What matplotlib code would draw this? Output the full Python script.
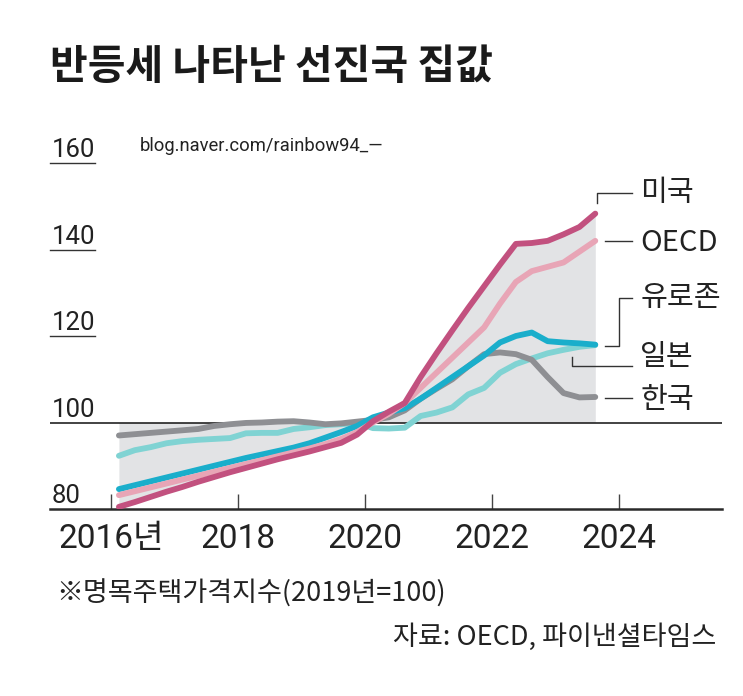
import matplotlib
matplotlib.use("Agg")
import matplotlib.pyplot as plt
import numpy as np

# quarterly nominal house price index (2019 = 100)
quarters = ["2016Q1", "2016Q2", "2016Q3", "2016Q4", "2017Q1", "2017Q2", "2017Q3", "2017Q4",
            "2018Q1", "2018Q2", "2018Q3", "2018Q4", "2019Q1", "2019Q2", "2019Q3", "2019Q4",
            "2020Q1", "2020Q2", "2020Q3", "2020Q4", "2021Q1", "2021Q2", "2021Q3", "2021Q4",
            "2022Q1", "2022Q2", "2022Q3", "2022Q4", "2023Q1", "2023Q2", "2023Q3"]

usa = [80.5, 81.6, 82.8, 84.0, 85.1, 86.3, 87.4, 88.5, 89.5, 90.5, 91.5, 92.4, 93.3, 94.3, 95.3, 97.2,
       100.3, 102.5, 104.5, 110.5, 116.0, 121.3, 126.5, 131.5, 136.5, 141.3, 141.5, 142.0, 143.5, 145.2, 148.3]
oecd = [83.2, 84.1, 85.0, 85.9, 86.8, 87.7, 88.6, 89.5, 90.4, 91.3, 92.2, 93.1, 94.0, 95.0, 96.2, 97.8,
        100.0, 102.0, 104.5, 108.0, 111.5, 115.0, 118.5, 122.0, 127.5, 132.5, 135.0, 136.0, 137.0, 139.5, 142.0]
euro = [84.6, 85.5, 86.4, 87.3, 88.2, 89.1, 90.0, 90.9, 91.8, 92.6, 93.4, 94.2, 95.2, 96.5, 97.8, 99.2,
        101.2, 102.3, 103.3, 105.5, 108.0, 110.5, 113.0, 115.5, 118.5, 120.0, 120.8, 118.8, 118.5, 118.3, 118.0]
japan = [92.3, 93.6, 94.3, 95.2, 95.7, 96.0, 96.2, 96.4, 97.5, 97.6, 97.6, 98.5, 98.9, 99.4, 99.6, 99.9,
         98.7, 98.6, 98.8, 101.5, 102.3, 103.5, 106.5, 108.0, 111.5, 113.5, 114.8, 116.0, 116.8, 117.5, 117.9]
korea = [97.0, 97.3, 97.6, 97.9, 98.2, 98.5, 99.2, 99.6, 99.9, 100.0, 100.2, 100.3, 100.0, 99.6, 99.8, 100.2,
         100.6, 101.2, 102.8, 105.5, 107.8, 110.0, 113.0, 115.8, 116.2, 115.8, 114.5, 110.5, 106.8, 105.8, 105.9]

names = ["미국", "OECD", "유로존", "일본", "한국"]
yticks = [80, 100, 120, 140, 160]
xticks = [2016, 2018, 2020, 2022, 2024]
xlabels = ["2016년", "2018", "2020", "2022", "2024"]

x = np.array([int(q[:4]) + (int(q[-1]) - 1) * 0.25 + 0.125 for q in quarters])

W, H = 743, 696
fig = plt.figure(figsize=(W / 100, H / 100), dpi=100)

def fx(px):
    return px / W

def fy(py):
    return 1 - py / H

ax = fig.add_axes([fx(50), fy(509), (722 - 50) / W, (509 - 163) / H])
ax.set_xlim(2015.04, 2025.62)
ax.set_ylim(80, 160)
for s in ["top", "right", "left"]:
    ax.spines[s].set_visible(False)
ax.spines["bottom"].set_color("#2a2a2a")
ax.spines["bottom"].set_linewidth(1.8)
ax.set_yticks([])
ax.set_xticks(xticks)
ax.set_xticklabels([])
ax.tick_params(axis="x", direction="in", length=11, width=1, color="#444444")

num_font = ["Roboto", "Noto Sans CJK KR", "DejaVu Sans"]
kr_font = ["Noto Sans CJK KR", "DejaVu Sans"]

# shaded band between 100 and the US line
ax.fill_between(x, 100, usa, color="#e2e3e5", lw=0, zorder=1)
ax.axhline(100, color="#222222", lw=1.2, zorder=2)

colors = ["#c2517f", "#e8a5b6", "#1aaecb", "#80d3d3", "#8e8f93"]
series = [usa, oecd, euro, japan, korea]
zord = [8, 7, 6, 4, 5]
for vals, c, z in zip(series, colors, zord):
    ax.plot(x, vals, color=c, lw=4.2, solid_capstyle="round", solid_joinstyle="round", zorder=z)

# y labels sitting on short underlines
for v in yticks:
    ax.text(0.003, v + 1.3, str(v), transform=ax.get_yaxis_transform(), ha="left", va="baseline",
            fontsize=18.5, family=num_font, color="#222222")
    if v > 100:
        ax.plot([0, 0.067], [v, v], transform=ax.get_yaxis_transform(), color="#333333", lw=1,
                clip_on=False)

for t, lab in zip(xticks, xlabels):
    ax.text(t, -0.04, lab, transform=ax.get_xaxis_transform(), ha="center", va="top",
            fontsize=24, family=num_font, color="#222222")

# leaders and labels on the right
leaders = [
    ([2023.654, 2023.654, 2024.2], [150.75, 153.06, 153.06]),
    ([2023.78, 2024.2], [142.0, 142.0]),
    ([2023.78, 2024.0, 2024.0, 2024.2], [117.7, 117.7, 128.8, 128.8]),
    ([2023.26, 2023.26, 2024.2], [115.1, 113.1, 113.1]),
    ([2023.78, 2024.2], [105.7, 105.7]),
]
label_y = [153.1, 141.5, 128.8, 115.1, 105.2]
for (lx, ly), name, yy in zip(leaders, names, label_y):
    ax.plot(lx, ly, color="#333333", lw=1, zorder=3)
    ax.text(2024.33, yy, name, ha="left", va="center", fontsize=21, family=kr_font, color="#222222")

fig.text(fx(140), fy(146), "blog.naver.com/rainbow94_\u2014", ha="left", va="center", fontsize=13.2,
         family=["Roboto", "DejaVu Sans"], color="#222222")

fig.text(fx(50), fy(67), "반등세 나타난 선진국 집값", ha="left", va="center", fontsize=29.5,
         fontweight="bold", family=kr_font, color="#1a1a1a")
fig.text(fx(56), fy(594), "※명목주택가격지수(2019년=100)", ha="left", va="center", fontsize=19.5,
         family=kr_font, color="#222222")
fig.text(fx(716), fy(637), "자료: OECD, 파이낸셜타임스", ha="right", va="center", fontsize=19.5,
         family=kr_font, color="#222222")

fig.savefig("out.png", dpi=100)
